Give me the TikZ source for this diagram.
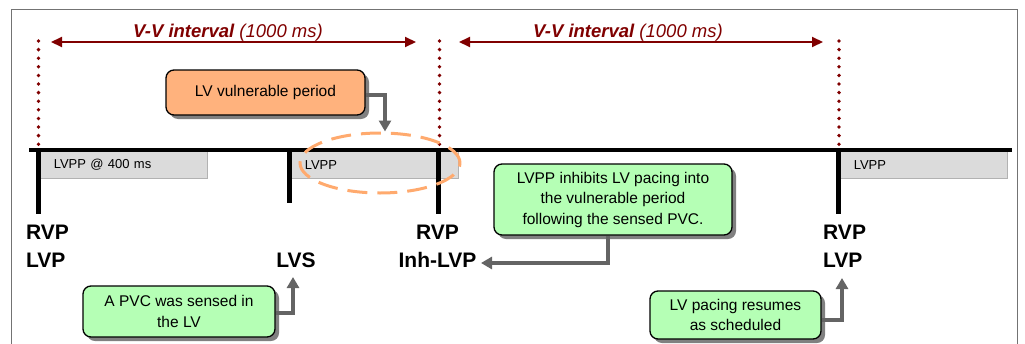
\documentclass[tikz,border=0pt]{standalone}
\usepackage{fontspec}
\setmainfont{Liberation Sans}
\usetikzlibrary{arrows.meta, shapes.geometric, shadows}
\definecolor{vvred}{RGB}{128,0,0}
\definecolor{vulnorange}{RGB}{255,178,125}
\definecolor{zoneorange}{RGB}{255,170,110}
\definecolor{notegreen}{RGB}{181,255,181}
\definecolor{calloutgray}{RGB}{100,100,100}
\colorlet{ppgray}{black!14}
\tikzset{
  note/.style={draw, line width=1.3pt, rounded corners=8pt, align=center,
    font=\fontsize{15.5}{20.5}\selectfont,
    drop shadow={shadow xshift=4pt, shadow yshift=-4pt, fill=black!50, opacity=1}},
  callout/.style={calloutgray, line width=4pt, -{Triangle[width=12pt,length=11pt]}},
  vvarrow/.style={vvred, line width=2pt, {Triangle[width=10pt,length=11pt]}-{Triangle[width=10pt,length=11pt]}},
  vvlabel/.style={vvred, anchor=base, font=\fontsize{18.5}{22}\selectfont\itshape},
  lvppbox/.style={draw=black!30, line width=0.6pt, fill=ppgray, anchor=north west,
    minimum width=167pt, minimum height=27pt, text width=140pt, inner xsep=13.5pt,
    align=left, font=\fontsize{13}{15}\selectfont},
  marker/.style={line width=5pt},
  event/.style={inner sep=0pt, font=\fontsize{21}{28}\selectfont\bfseries}
}

\begin{document}
\begin{tikzpicture}[x=1pt, y=-1pt]
  \useasboundingbox (0,0) rectangle (1025,343);
  \draw[black!55, line width=1pt] (11,360) -- (11,9) -- (1017,9) -- (1017,360);

  % refractory periods
  \node[lvppbox] (pp1) at (40,151) {LVPP @ 400 ms};
  \node[lvppbox] (pp2) at (291,151) {LVPP};
  \node[lvppbox] (pp3) at (840,151) {LVPP};

  % time line and events
  \draw[line width=3.5pt] (29,150) -- (1012,150);
  \draw[marker] (38.5,148) -- (38.5,214);
  \draw[marker] (289,148) -- (289,203);
  \draw[marker] (438.5,148) -- (438.5,214);
  \draw[marker] (838.5,148) -- (838.5,214);

  % dotted guides
  \foreach \x in {38.5, 439.5, 839}
    \foreach \y in {41, 49.6, ..., 150}
      \fill[vvred] (\x,\y) circle[radius=1.9pt];

  \draw[vvarrow] (51,42) -- (416,42);
  \node[vvlabel] (vv1) at (228,37) {\bfseries V-V interval \mdseries(1000 ms)};
  \draw[vvarrow] (459,42) -- (823,42);
  \node[vvlabel] (vv2) at (628,37) {\bfseries V-V interval \mdseries(1000 ms)};

  \node[event, anchor=base west] (rvp1) at (26,239) {RVP};
  \node[event, anchor=base west] (lvp1) at (26,267) {LVP};
  \node[event, anchor=base] (lvs) at (296,267) {LVS};
  \node[event, anchor=base] (rvp2) at (437.5,239) {RVP};
  \node[event, anchor=base] (inh) at (437.5,267) {Inh-LVP};
  \node[event, anchor=base west] (rvp3) at (823,239) {RVP};
  \node[event, anchor=base west] (lvp3) at (823,267) {LVP};

  % vulnerable period
  \node[draw=zoneorange, line width=3pt, dash pattern=on 20pt off 10pt, ellipse,
    minimum width=160pt, minimum height=60pt] (zone) at (380,163) {};
  \node[note, fill=vulnorange, minimum width=199pt, minimum height=45pt] (vuln) at (265.5,92.5) {LV vulnerable period};
  \draw[callout] ([yshift=-2pt]vuln.east) -| ([xshift=5pt]zone.north);

  % notes
  \node[note, fill=notegreen, minimum width=238pt, minimum height=71pt] (inhib) at (613,199.5)
    {LVPP inhibits LV pacing into\\the vulnerable period\\following the sensed PVC.};
  \coordinate (inhtip) at (481,263);
  \draw[callout] ([xshift=-5pt]inhib.south) |- (inhtip);

  \node[note, fill=notegreen, minimum width=192pt, minimum height=51pt] (pvc) at (179,311.5)
    {A PVC was sensed in\\the LV};
  \coordinate (lvstip) at (293,277);
  \draw[callout] ([yshift=-1.5pt]pvc.east) -| (lvstip);

  \node[note, fill=notegreen, minimum width=171pt, minimum height=48pt] (resume) at (735.5,315)
    {LV pacing resumes\\as scheduled};
  \coordinate (lvptip) at (842,278);
  \draw[callout] ([yshift=-5pt]resume.east) -| (lvptip);
\end{tikzpicture}
\end{document}
